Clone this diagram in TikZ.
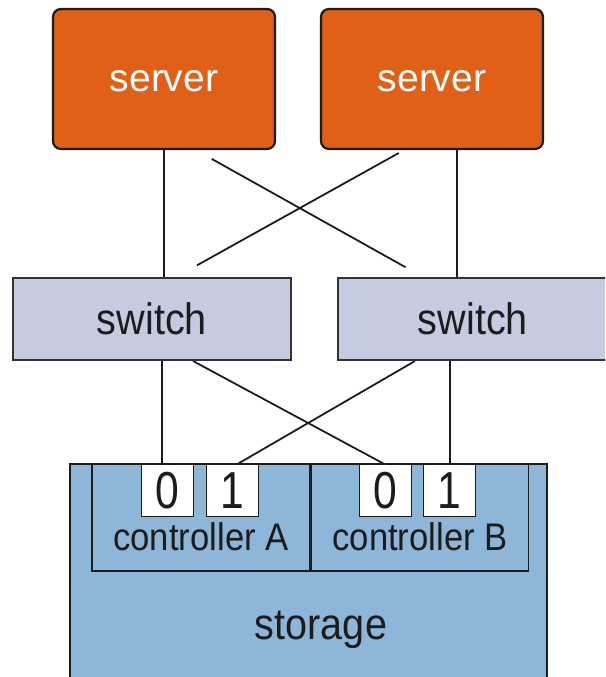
\documentclass[tikz,border=0pt]{standalone}
\usepackage{fontspec}
\setmainfont[FakeStretch=0.9]{Liberation Sans}
\newfontfamily\srvfont{Liberation Sans}
\newfontfamily\portfont[FakeStretch=0.82]{Liberation Sans}
\usepackage{tikz}
\usetikzlibrary{positioning}
\definecolor{srvorange}{RGB}{225,95,22}
\definecolor{swgray}{RGB}{197,204,224}
\definecolor{stblue}{RGB}{142,182,217}
\definecolor{inkdark}{RGB}{28,28,28}

\begin{document}
\begin{tikzpicture}[x=1pt,y=-1pt]
		\tikzstyle{server}=[draw=inkdark,line width=2.2pt,fill=srvorange,rounded corners=8pt,minimum width=222pt,minimum height=140pt,inner sep=0pt,text height=26pt,text depth=0pt,text=white,font=\srvfont\fontsize{39}{39}\selectfont]
		\tikzstyle{switchbox}=[draw=inkdark!90,line width=2pt,fill=swgray,minimum height=82pt,inner sep=0pt,text=inkdark,font=\fontsize{44}{44}\selectfont]
		\tikzstyle{ctrl}=[draw=inkdark,line width=1.6pt,minimum height=107pt,inner sep=0pt]
		\tikzstyle{port}=[draw=inkdark,line width=1.3pt,fill=white,minimum size=52pt,inner sep=0pt,text=inkdark,font=\portfont\fontsize{52}{52}\selectfont]
		\tikzstyle{lbl}=[inner sep=0pt,text=inkdark,anchor=base]
		\tikzstyle{link}=[draw=inkdark,line width=1.8pt]
		\useasboundingbox (0,0) rectangle (605,677);
		\clip (0,0) rectangle (605,677);

		% servers and switches
		\node[server] (srvA) at (164,79) {server};
		\node[server] (srvB) at (432,79) {server};
		\node[switchbox,minimum width=278pt] (swA) at (152,319) {switch};
		\node[switchbox,minimum width=270pt] (swB) at (473,319) {switch};

		% storage with its two controllers
		\node[draw=inkdark,line width=2.2pt,fill=stblue,minimum width=477pt,minimum height=236pt] (storage) at (308.5,582) {};
		\node[ctrl,minimum width=218pt] (ctrlA) at (201,517.5) {};
		\node[ctrl,minimum width=217pt,right=0pt of ctrlA] (ctrlB) {};
		\node[lbl,font=\fontsize{38.5}{38.5}\selectfont] (ctrlAtxt) at ([yshift=-32.5pt]ctrlA.center) {controller A};
		\node[lbl,font=\fontsize{38.5}{38.5}\selectfont] (ctrlBtxt) at ([yshift=-32.5pt]ctrlB.center) {controller B};
		\node[lbl,font=\fontsize{44}{44}\selectfont] (storagetxt) at (321,639) {storage};
		\node[port] (pA0) at (167.5,490.5) {0};
		\node[port,right=12pt of pA0] (pA1) {1};
		\node[port] (pB0) at (385.5,490.5) {0};
		\node[port,right=11pt of pB0] (pB1) {1};

		% servers to switches
		\draw[link] (srvA.south) -- (srvA.south |- swA.north);
		\coordinate (upB) at ([xshift=25pt]srvB.south);
		\draw[link] (upB) -- (upB |- swB.north);
		\draw[link,shorten <=18pt,shorten >=20pt] ([xshift=32pt]srvA.south) -- ([xshift=-50pt]swB.north);
		\draw[link,shorten <=6pt,shorten >=24pt] ([xshift=-28pt]srvB.south) -- ([xshift=24pt]swA.north);

		% switches to controller ports
		\coordinate (dnA) at ([xshift=-5.5pt]pA0.north);
		\draw[link] (dnA |- swA.south) -- (dnA);
		\draw[link] ([xshift=41pt]swA.south) -- ([xshift=-1.5pt]pB0.north);
		\draw[link] ([xshift=-58pt]swB.south) -- ([xshift=5pt]pA1.north);
		\draw[link] (pB1.north |- swB.south) -- (pB1.north);
	\end{tikzpicture}
\end{document}
